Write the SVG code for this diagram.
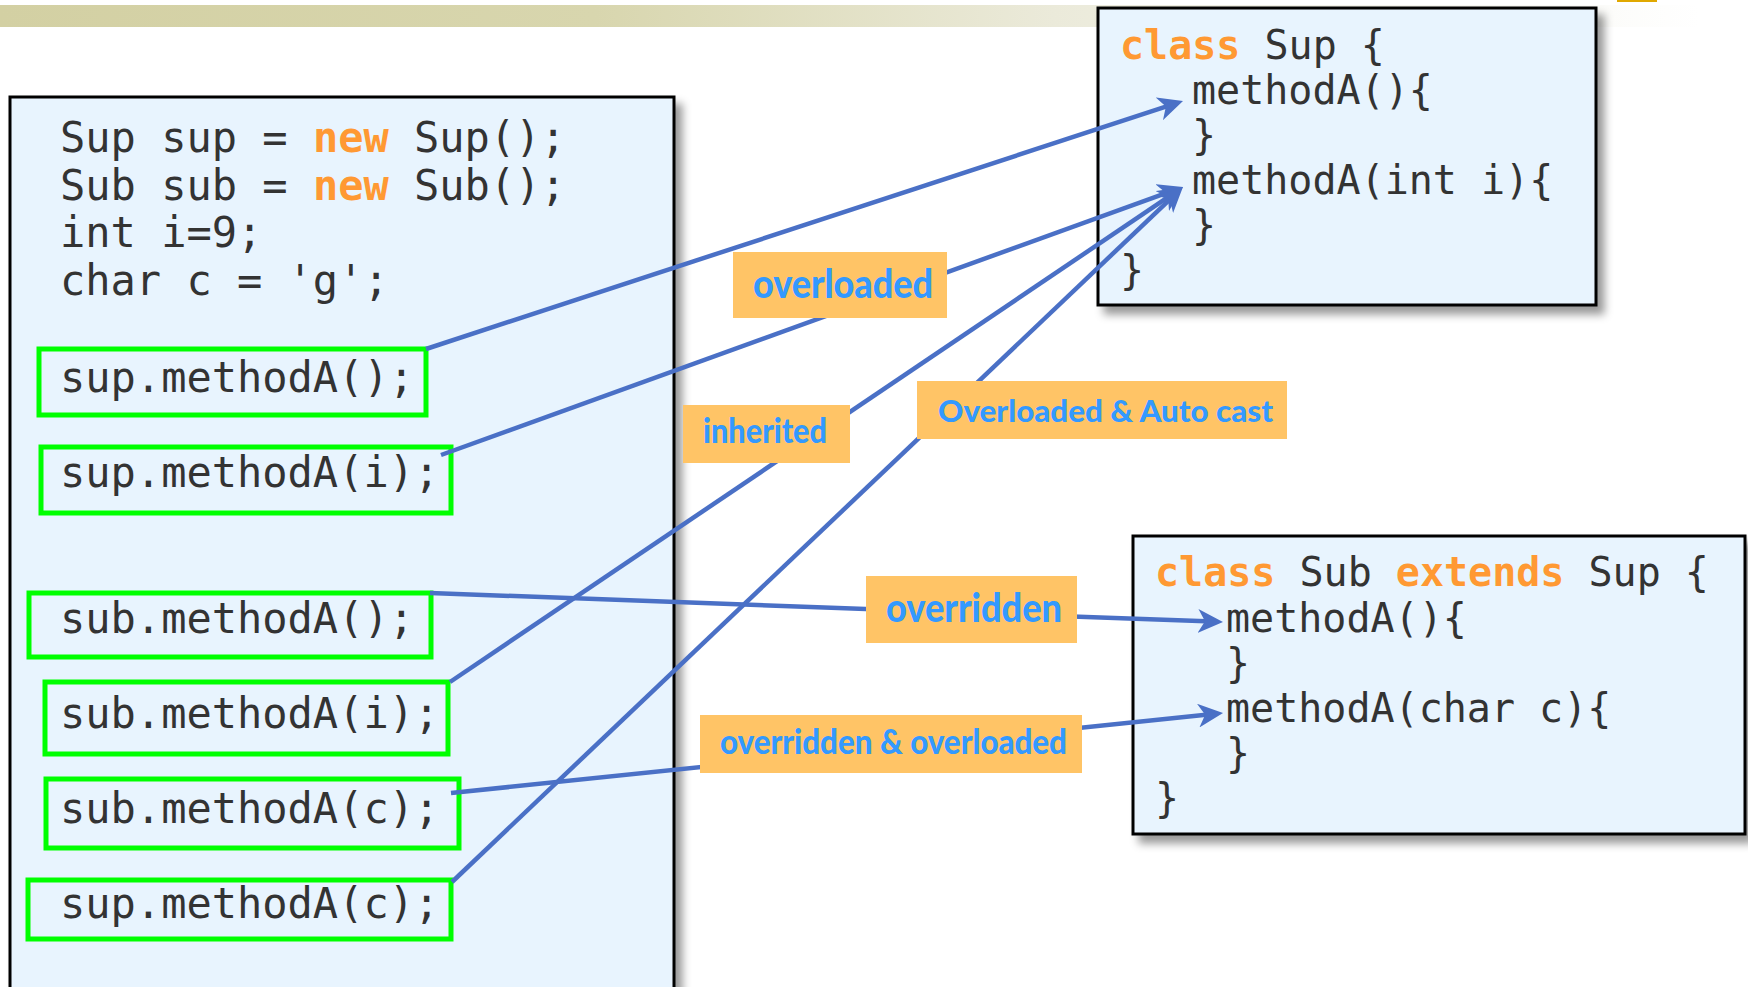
<svg xmlns="http://www.w3.org/2000/svg" width="1748" height="987" viewBox="0 0 1748 987">
  <style>
    .panel { fill: #e8f4fe; stroke: #000; stroke-width: 3; }
    .code { font-family: "DejaVu Sans Mono", "Liberation Mono", monospace; fill: #333333; }
    .kw { font-weight: bold; fill: #ff9933; }
    .call { fill: none; stroke: #00ff00; stroke-width: 5; }
    .link { fill: none; stroke: #4a70c6; stroke-width: 4.5; }
    .tag rect { fill: #ffc466; }
    .tag text { font-family: Lato, "Noto Sans", sans-serif; font-weight: 900; fill: #3399ff; text-anchor: middle; }
  </style>
  <defs>
    <linearGradient id="bar" x1="0" y1="0" x2="1" y2="0">
      <stop offset="0" stop-color="#d3d0a3"/>
      <stop offset="0.35" stop-color="#d8d6ae"/>
      <stop offset="0.62" stop-color="#ebeada"/>
      <stop offset="1" stop-color="#ffffff"/>
    </linearGradient>
    <filter id="shadow" x="-5%" y="-5%" width="115%" height="115%">
      <feDropShadow dx="7" dy="8" stdDeviation="4" flood-color="#000" flood-opacity="0.4"/>
    </filter>
    <marker id="arrow" markerUnits="userSpaceOnUse" markerWidth="26" markerHeight="24" refX="15" refY="12" orient="auto">
      <path d="M0,0 L25,12 L0,24 L7,12 Z" fill="#4a70c6"/>
    </marker>
  </defs>

  <!-- header strip -->
  <rect x="0" y="5" width="1700" height="22" fill="url(#bar)"/>
  <rect x="1617" y="0" width="40" height="2" fill="#e0a800"/>

  <!-- caller code panel -->
  <g id="caller">
    <rect class="panel" x="10" y="97" width="664" height="920" filter="url(#shadow)"/>
    <text class="code" font-size="42" x="60" y="152">Sup sup = <tspan class="kw">new</tspan> Sup();</text>
    <text class="code" font-size="42" x="60" y="200">Sub sub = <tspan class="kw">new</tspan> Sub();</text>
    <text class="code" font-size="42" x="60" y="247">int i=9;</text>
    <text class="code" font-size="42" x="60" y="295">char c = 'g';</text>
  </g>

  <g id="call-sup-a">
    <rect class="call" x="39" y="349" width="387" height="66"/>
    <text class="code" font-size="42" x="60" y="392">sup.methodA();</text>
  </g>
  <g id="call-sup-ai">
    <rect class="call" x="41" y="447" width="410" height="66"/>
    <text class="code" font-size="42" x="60" y="487">sup.methodA(i);</text>
  </g>
  <g id="call-sub-a">
    <rect class="call" x="29" y="593" width="402" height="64"/>
    <text class="code" font-size="42" x="60" y="633">sub.methodA();</text>
  </g>
  <g id="call-sub-ai">
    <rect class="call" x="45" y="682" width="403" height="72"/>
    <text class="code" font-size="42" x="60" y="728">sub.methodA(i);</text>
  </g>
  <g id="call-sub-ac">
    <rect class="call" x="46" y="779" width="413" height="69"/>
    <text class="code" font-size="42" x="60" y="823">sub.methodA(c);</text>
  </g>
  <g id="call-sup-ac">
    <rect class="call" x="28" y="880" width="423" height="59"/>
    <text class="code" font-size="42" x="60" y="918">sup.methodA(c);</text>
  </g>

  <!-- class Sup -->
  <g id="class-sup">
    <rect class="panel" x="1098" y="8" width="498" height="297" filter="url(#shadow)"/>
    <text class="code" font-size="40" x="1120" y="59"><tspan class="kw">class</tspan> Sup {</text>
    <text class="code" font-size="40" x="1192" y="104">methodA(){</text>
    <text class="code" font-size="40" x="1192" y="149">}</text>
    <text class="code" font-size="40" x="1192" y="194">methodA(int i){</text>
    <text class="code" font-size="40" x="1192" y="239">}</text>
    <text class="code" font-size="40" x="1120" y="284">}</text>
  </g>

  <!-- class Sub -->
  <g id="class-sub">
    <rect class="panel" x="1133" y="536" width="612" height="298" filter="url(#shadow)"/>
    <text class="code" font-size="40" x="1155" y="586"><tspan class="kw">class</tspan> Sub <tspan class="kw">extends</tspan> Sup {</text>
    <text class="code" font-size="40" x="1226" y="632">methodA(){</text>
    <text class="code" font-size="40" x="1226" y="677">}</text>
    <text class="code" font-size="40" x="1226" y="722">methodA(char c){</text>
    <text class="code" font-size="40" x="1226" y="767">}</text>
    <text class="code" font-size="40" x="1155" y="812">}</text>
  </g>

  <!-- dispatch links -->
  <g id="links">
    <line class="link" x1="426" y1="349" x2="1173.5" y2="104.1" marker-end="url(#arrow)"/>
    <line class="link" x1="441" y1="455" x2="1173.6" y2="190.4" marker-end="url(#arrow)"/>
    <line class="link" x1="450" y1="682" x2="1174.7" y2="192.6" marker-end="url(#arrow)"/>
    <line class="link" x1="452" y1="882" x2="1175.7" y2="193.9" marker-end="url(#arrow)"/>
    <line class="link" x1="430" y1="593" x2="1213" y2="621.6" marker-end="url(#arrow)"/>
    <line class="link" x1="451" y1="793" x2="1213.1" y2="714" marker-end="url(#arrow)"/>
  </g>

  <!-- link labels -->
  <g id="label-overloaded" class="tag">
    <rect x="733" y="252" width="214" height="66"/>
    <text x="843" y="298" font-size="40" textLength="180" lengthAdjust="spacingAndGlyphs">overloaded</text>
  </g>
  <g id="label-inherited" class="tag">
    <rect x="683" y="405" width="167" height="58"/>
    <text x="765" y="443" font-size="35" textLength="124" lengthAdjust="spacingAndGlyphs">inherited</text>
  </g>
  <g id="label-autocast" class="tag">
    <rect x="917" y="381" width="370" height="58"/>
    <text x="1105.5" y="422" font-size="31" textLength="335" lengthAdjust="spacingAndGlyphs">Overloaded &amp; Auto cast</text>
  </g>
  <g id="label-overridden" class="tag">
    <rect x="866" y="576" width="211" height="67"/>
    <text x="974" y="622" font-size="40" textLength="176" lengthAdjust="spacingAndGlyphs">overridden</text>
  </g>
  <g id="label-overridden-overloaded" class="tag">
    <rect x="700" y="715" width="382" height="58"/>
    <text x="893.5" y="754" font-size="34" textLength="347" lengthAdjust="spacingAndGlyphs">overridden &amp; overloaded</text>
  </g>
</svg>
